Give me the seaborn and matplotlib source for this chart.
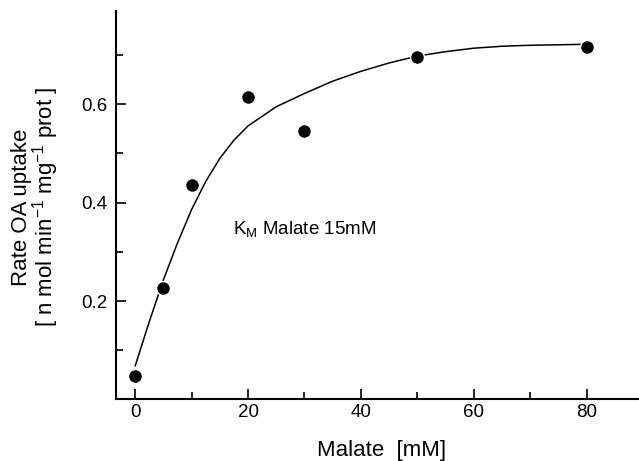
import numpy as np
import pandas as pd
import seaborn as sns
import matplotlib.pyplot as plt

# measured points
malate = [0, 5, 10, 20, 30, 50, 80]
rate = [0.047, 0.227, 0.435, 0.615, 0.545, 0.697, 0.716]

# fitted curve
fit_x = [0, 2.5, 5, 7.5, 10, 12.5, 15, 17.5, 20, 25, 30, 35, 40, 45, 50, 55, 60, 65, 70, 75, 80]
fit_y = [0.068, 0.158, 0.243, 0.318, 0.386, 0.443, 0.49, 0.527, 0.556, 0.595, 0.622, 0.647,
         0.667, 0.684, 0.698, 0.707, 0.714, 0.718, 0.720, 0.721, 0.722]

sns.set_style("ticks")
plt.rcParams['font.family'] = ['Liberation Sans', 'DejaVu Sans']
plt.rcParams['mathtext.fontset'] = 'custom'
plt.rcParams['mathtext.rm'] = 'Liberation Sans'
plt.rcParams['mathtext.default'] = 'regular'
for k in ['text.color', 'axes.labelcolor', 'xtick.color', 'ytick.color']:
    plt.rcParams[k] = 'black'

fig = plt.figure(figsize=(6.39, 4.61), dpi=100)
ax = fig.add_axes([0.1815, 0.1335, 0.8185, 0.843])

pts = pd.DataFrame({'x': malate, 'y': rate})
fit = pd.DataFrame({'x': fit_x, 'y': fit_y})

sns.lineplot(data=fit, x='x', y='y', ax=ax, color='black', lw=1.1, zorder=2)
sns.scatterplot(data=pts, x='x', y='y', ax=ax, color='black', s=100,
                edgecolor='white', linewidth=1.0, zorder=3)

ax.set_xlim(-3.4, 89.3)
ax.set_ylim(0, 0.79)
ax.set_xticks([0, 20, 40, 60, 80])
ax.set_xticks([10, 30, 50, 70], minor=True)
ax.set_yticks([0.2, 0.4, 0.6])
ax.set_yticklabels(['0.2', '0.4', '0.6'])
ax.set_yticks([0.1, 0.3, 0.5, 0.7], minor=True)

ax.tick_params(which='both', direction='in', color='black', width=1.2, labelsize=13.5)
ax.tick_params(which='major', length=7)
ax.tick_params(which='minor', length=5)
ax.tick_params(axis='y', pad=6)
ax.tick_params(axis='x', pad=3.6)

for s in ['top', 'right']:
    ax.spines[s].set_visible(False)
for s in ['left', 'bottom']:
    ax.spines[s].set_linewidth(1.5)
    ax.spines[s].set_color('black')

ax.set_xlabel('')
ax.set_ylabel('')

fig.text(381.7 / 639, 1 - 450 / 461, 'Malate  [mM]', ha='center', va='center', fontsize=16)
fig.text(36 / 639, 1 - 207 / 461, 'Rate OA uptake\n' + r'[ n mol min$^{-1}$ mg$^{-1}$ prot ]',
         rotation=90, ha='center', va='center', multialignment='center',
         fontsize=16, linespacing=0.95)

ax.text(17.4, 0.3465, r'K$_\mathregular{M}$ Malate 15mM', fontsize=13.5, va='center', ha='left')

fig.savefig('out.png', dpi=100)
